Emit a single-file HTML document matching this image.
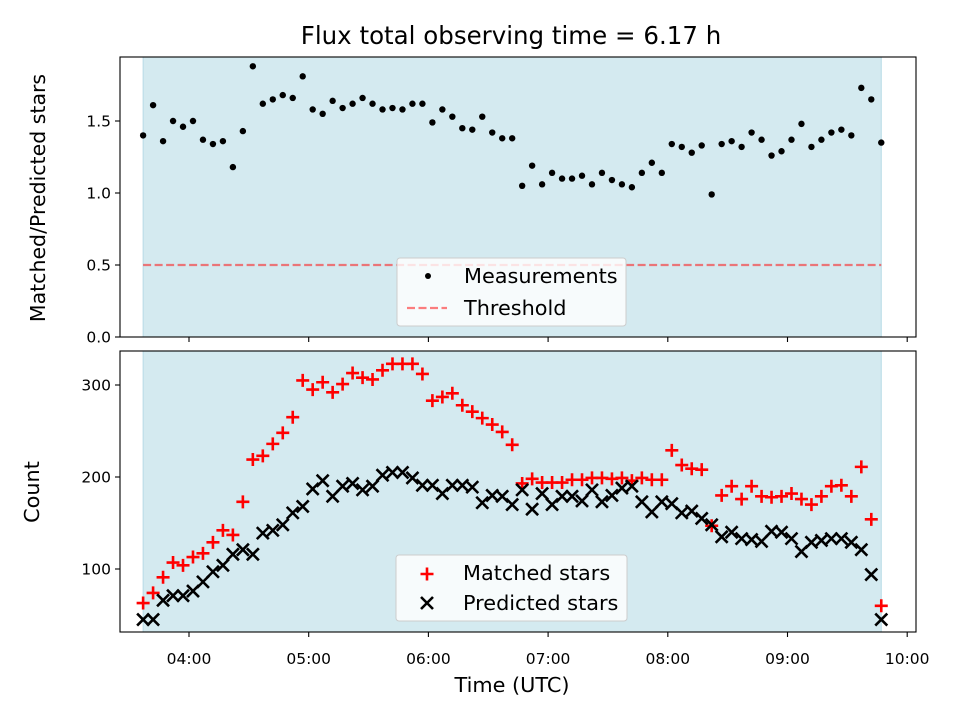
<!DOCTYPE html>
<html><head><meta charset="utf-8"><style>
html,body{margin:0;padding:0;background:#fff;}
svg{display:block;font-family:"DejaVu Sans","Liberation Sans",sans-serif;}
</style></head><body>
<svg id="chart" width="960" height="720" xmlns="http://www.w3.org/2000/svg"></svg>
<script>
// Data (times as HH:MM, every 5 minutes)
const times = [];
const startTimes = ["03:37"]; // first sample
const sampleCount = 75;
const ratio = [1.40,1.61,1.36,1.50,1.46,1.50,1.37,1.34,1.36,1.18,1.43,1.88,1.62,1.65,1.68,1.66,1.81,1.58,1.55,1.64,1.59,1.62,1.66,1.62,1.58,1.59,1.58,1.62,1.62,1.49,1.58,1.53,1.45,1.44,1.53,1.42,1.38,1.38,
1.05,1.19,1.06,1.14,1.10,1.10,1.12,1.06,1.14,1.09,1.06,1.04,1.14,1.21,1.14,1.34,1.32,1.28,1.33,0.99,1.34,1.36,1.32,1.42,1.37,1.26,1.29,1.37,1.48,1.32,1.37,1.42,1.44,1.40,1.73,1.65,1.35];
const matched = [63,74,91,107,104,113,117,129,142,137,173,219,223,236,248,265,305,295,303,292,301,313,308,306,316,323,323,323,312,283,287,291,278,271,264,257,249,235,
193,198,194,194,194,197,197,199,199,198,199,196,199,197,197,229,213,209,208,147,180,190,176,190,179,178,179,182,176,170,179,190,191,179,211,154,60];
const predicted = [45,45,66,71,71,76,86,97,104,116,121,116,139,142,148,161,168,187,196,179,190,193,186,190,202,205,205,199,191,191,182,191,191,189,172,180,179,170,
186,165,182,170,179,179,174,186,173,180,188,190,173,162,173,171,161,163,155,148,135,140,133,132,130,141,140,133,119,129,131,133,133,129,121,94,45];
const xTickLabels = ["04:00","05:00","06:00","07:00","08:00","09:00","10:00"];
const topYTicks = [0.0,0.5,1.0,1.5];
const botYTicks = [100,200,300];
const threshold = 0.5;
const spanStart = "03:37", spanEnd = "09:47";

function toMin(s){const p=s.split(":");return (+p[0])*60+(+p[1]);}
for(let i=0;i<sampleCount;i++){const m=toMin(startTimes[0])+5*i;times.push(String(Math.floor(m/60)).padStart(2,"0")+":"+String(m%60).padStart(2,"0"));}

const NS="http://www.w3.org/2000/svg";
const svg=document.getElementById("chart");
function mk(tag,attrs,parent){const e=document.createElementNS(NS,tag);for(const k in attrs)e.setAttribute(k,attrs[k]);(parent||svg).appendChild(e);return e;}

const X0=120,X1=916;
const xScale=m=>189+(m-240)*119.7/60;
const topY=v=>337-v*144;
const botY=v=>569-(v-100)*0.92;
const T={y0:57,y1:337}, B={y0:351,y1:632};

function panel(P,name){
  const r=mk("rect",{x:X0,y:P.y0,width:X1-X0,height:P.y1-P.y0,fill:"#fff"});
  
  
  const sp=mk("rect",{x:xScale(toMin(spanStart)),y:P.y0,width:xScale(toMin(spanEnd))-xScale(toMin(spanStart)),height:P.y1-P.y0,fill:"#d4eaf0",stroke:"#b8dbe6","stroke-width":1});
  
  
}
panel(T,"top");panel(B,"bottom");

const th=mk("line",{x1:xScale(toMin(spanStart)),x2:xScale(toMin(spanEnd)),y1:topY(threshold),y2:topY(threshold),stroke:"rgba(255,0,0,0.5)","stroke-width":2.2,"stroke-dasharray":"8,3.5"});



ratio.forEach((v,i)=>{
  const c=mk("circle",{cx:xScale(toMin(times[i])),cy:topY(v),r:3.2,fill:"#000"});
  
  
});
matched.forEach((v,i)=>{
  const x=xScale(toMin(times[i])),y=botY(v);
  const p=mk("path",{d:`M${x-6.5},${y}H${x+6.5}M${x},${y-6.5}V${y+6.5}`,stroke:"#f00","stroke-width":2.6,fill:"none"});
  
  
});
predicted.forEach((v,i)=>{
  const x=xScale(toMin(times[i])),y=botY(v);
  const p=mk("path",{d:`M${x-6},${y-6}L${x+6},${y+6}M${x-6},${y+6}L${x+6},${y-6}`,stroke:"#000","stroke-width":2.6,fill:"none"});
  
  
});

function frame(P,name){
  const f=mk("rect",{x:X0,y:P.y0,width:X1-X0,height:P.y1-P.y0,fill:"none",stroke:"#000","stroke-width":1.1});
  
  
  xTickLabels.forEach(l=>{
    const x=xScale(toMin(l));
    const t=mk("line",{x1:x,x2:x,y1:P.y1,y2:P.y1+5,stroke:"#000","stroke-width":1.1});
    
    
  });
}
frame(T,"top");frame(B,"bottom");
xTickLabels.forEach(l=>{
  const t=mk("text",{x:xScale(toMin(l)),y:664,"font-size":15.5,"text-anchor":"middle"});
  t.textContent=l;
  
  
});
topYTicks.forEach(v=>{
  const y=topY(v);
  const t=mk("line",{x1:X0-5,x2:X0,y1:y,y2:y,stroke:"#000","stroke-width":1.1});
  
  
  const s=mk("text",{x:X0-9,y:y+5.5,"font-size":15.5,"text-anchor":"end"});
  s.textContent=v.toFixed(1);
  
  
});
botYTicks.forEach(v=>{
  const y=botY(v);
  const t=mk("line",{x1:X0-5,x2:X0,y1:y,y2:y,stroke:"#000","stroke-width":1.1});
  
  
  const s=mk("text",{x:X0-9,y:y+5.5,"font-size":15.5,"text-anchor":"end"});
  s.textContent=String(v);
  
  
});
</script>
<svg width="960" height="720" style="position:absolute;left:0;top:0" xmlns="http://www.w3.org/2000/svg">
  <text x="511" y="44" font-size="24.5" text-anchor="middle" font-family="DejaVu Sans, Liberation Sans, sans-serif">Flux total observing time = 6.17 h</text>
  <text x="512" y="692" font-size="20.8" text-anchor="middle" font-family="DejaVu Sans, Liberation Sans, sans-serif">Time (UTC)</text>
  <text transform="translate(45,198) rotate(-90)" font-size="20.5" text-anchor="middle" font-family="DejaVu Sans, Liberation Sans, sans-serif">Matched/Predicted stars</text>
  <text transform="translate(39,492) rotate(-90)" font-size="20.8" text-anchor="middle" font-family="DejaVu Sans, Liberation Sans, sans-serif">Count</text>
  <g font-family="DejaVu Sans, Liberation Sans, sans-serif" font-size="20.8">
    <rect x="397" y="258" width="229" height="68" rx="3" fill="rgba(255,255,255,0.8)" stroke="#ccc"/>
    <circle cx="428" cy="276" r="3" fill="#000"/>
    <text x="464" y="283">Measurements</text>
    <line x1="407" x2="447" y1="308" y2="308" stroke="rgba(255,0,0,0.5)" stroke-width="2.2" stroke-dasharray="8,3.5"/>
    <text x="464" y="315">Threshold</text>
  </g>
  <g font-family="DejaVu Sans, Liberation Sans, sans-serif" font-size="20.8">
    <rect x="396" y="555" width="231" height="66" rx="3" fill="rgba(255,255,255,0.8)" stroke="#ccc"/>
    <path d="M420.5,574H433.5M427,567.5V580.5" stroke="#f00" stroke-width="2.6"/>
    <text x="463" y="580">Matched stars</text>
    <path d="M421,597L433,609M421,609L433,597" stroke="#000" stroke-width="2.6"/>
    <text x="463" y="610">Predicted stars</text>
  </g>
</svg>
</body></html>
